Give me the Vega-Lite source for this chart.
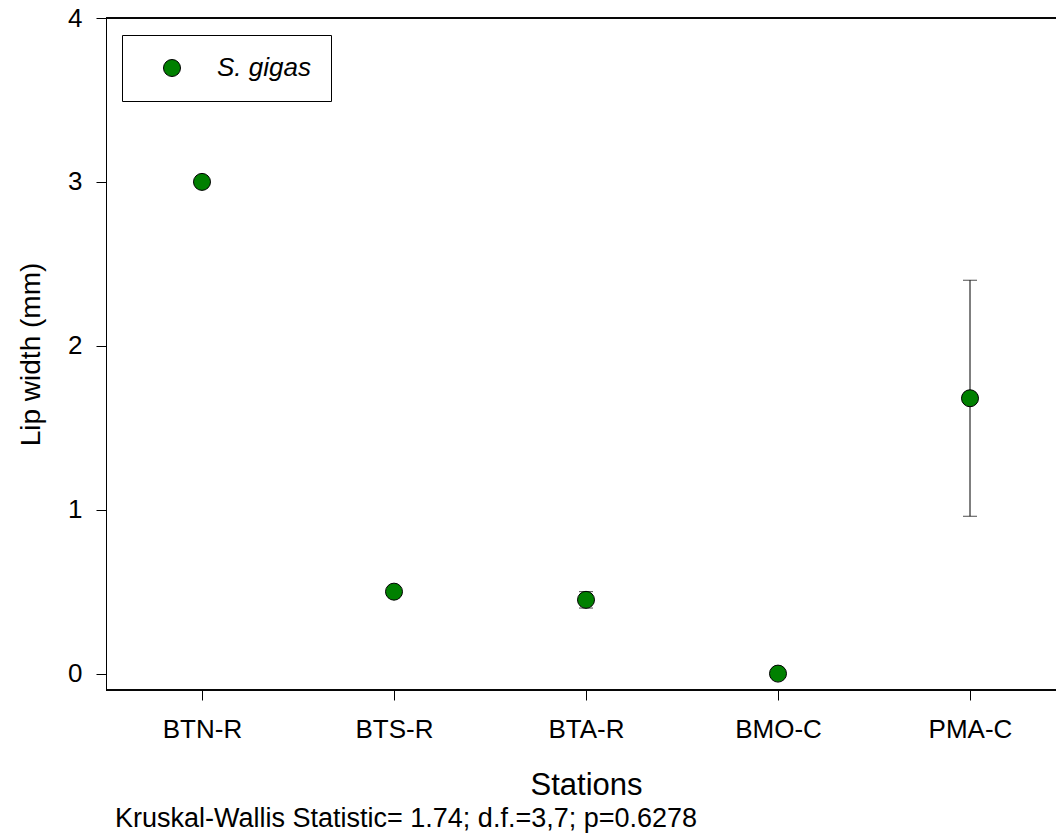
{
  "$schema": "https://vega.github.io/schema/vega-lite/v6.json",
  "autosize": "none",
  "padding": {"left": 106, "top": 18, "right": 0, "bottom": 147},
  "width": 950,
  "height": 672,
  "background": "white",
  "config": {
    "font": "Liberation Sans",
    "view": {"stroke": null},
    "axis": {
      "grid": false,
      "domainColor": "black",
      "tickColor": "black",
      "labelColor": "black",
      "titleColor": "black",
      "labelFont": "Liberation Sans",
      "titleFont": "Liberation Sans",
      "labelFontSize": 26,
      "titleFontWeight": "normal",
      "tickSize": 10
    }
  },
  "title": {
    "text": "Kruskal-Wallis Statistic= 1.74; d.f.=3,7; p=0.6278",
    "orient": "bottom",
    "anchor": "start",
    "frame": "group",
    "dx": 9,
    "offset": 6,
    "font": "Liberation Sans",
    "fontSize": 27,
    "fontWeight": "normal",
    "color": "black"
  },
  "data": {
    "values": [
      {"station": "BTN-R", "mean": 3.0, "lo": null, "hi": null, "species": "S. gigas"},
      {"station": "BTS-R", "mean": 0.5, "lo": null, "hi": null, "species": "S. gigas"},
      {"station": "BTA-R", "mean": 0.45, "lo": 0.4, "hi": 0.5, "species": "S. gigas"},
      {"station": "BMO-C", "mean": 0.0, "lo": null, "hi": null, "species": "S. gigas"},
      {"station": "PMA-C", "mean": 1.68, "lo": 0.96, "hi": 2.4, "species": "S. gigas"}
    ]
  },
  "encoding": {
    "x": {
      "field": "station",
      "type": "nominal",
      "scale": {"type": "point", "domain": ["BTN-R", "BTS-R", "BTA-R", "BMO-C", "PMA-C"], "range": [96, 864], "padding": 0},
      "axis": {"title": "Stations", "titleFontSize": 31, "labelAngle": 0, "labelPadding": 16, "titlePadding": 28, "domain": false}
    }
  },
  "layer": [
    {
      "mark": {"type": "rule", "color": "black", "strokeWidth": 1},
      "encoding": {"y": {"datum": 4}, "x": null}
    },
    {
      "mark": {"type": "rule", "color": "black", "strokeWidth": 1},
      "encoding": {"y": {"datum": -0.1}, "x": null}
    },
    {
      "transform": [{"filter": "datum.lo != null"}],
      "mark": {"type": "rule", "color": "black", "strokeWidth": 1},
      "encoding": {
        "y": {"field": "lo", "type": "quantitative"},
        "y2": {"field": "hi"}
      }
    },
    {
      "transform": [{"filter": "datum.lo != null"}],
      "mark": {"type": "tick", "orient": "horizontal", "color": "black", "size": 14, "thickness": 1},
      "encoding": {"y": {"field": "lo", "type": "quantitative"}}
    },
    {
      "transform": [{"filter": "datum.hi != null"}],
      "mark": {"type": "tick", "orient": "horizontal", "color": "black", "size": 14, "thickness": 1},
      "encoding": {"y": {"field": "hi", "type": "quantitative"}}
    },
    {
      "mark": {"type": "point", "shape": "circle", "filled": true, "stroke": "black", "strokeWidth": 1, "size": 289, "opacity": 1},
      "encoding": {
        "y": {
          "field": "mean",
          "type": "quantitative",
          "scale": {"domain": [-0.1, 4], "nice": false, "zero": false},
          "axis": {"title": "Lip width (mm)", "titleFontSize": 28, "values": [0, 1, 2, 3, 4], "format": "d", "labelPadding": 14, "titlePadding": 22}
        },
        "fill": {
          "field": "species",
          "type": "nominal",
          "scale": {"range": ["#008000"]},
          "legend": {
            "title": null,
            "orient": "none",
            "legendX": 16,
            "legendY": 17,
            "padding": 20,
            "strokeColor": "black",
            "fillColor": "white",
            "symbolType": "circle",
            "symbolSize": 289,
            "symbolStrokeColor": "black",
            "symbolStrokeWidth": 1,
            "symbolOffset": 17,
            "labelOffset": 32,
            "labelFontSize": 26,
            "labelFontStyle": "italic",
            "labelColor": "black",
            "labelFont": "Liberation Sans"
          }
        }
      }
    }
  ]
}
